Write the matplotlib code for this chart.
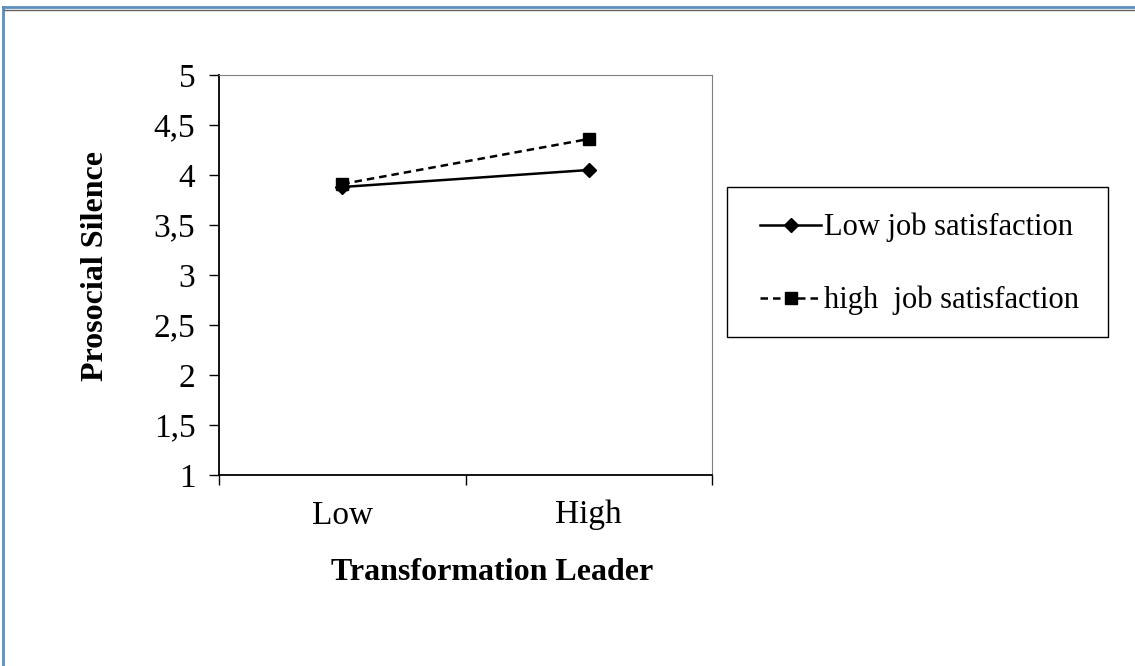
import matplotlib.pyplot as plt
from matplotlib.lines import Line2D
from matplotlib.patches import Rectangle

categories = ["Low", "High"]
low_sat = [3.88, 4.05]
high_sat = [3.91, 4.36]
y_ticks = [1, 1.5, 2, 2.5, 3, 3.5, 4, 4.5, 5]
y_labels = ["1", "1,5", "2", "2,5", "3", "3,5", "4", "4,5", "5"]

plt.rcParams['font.family'] = 'Liberation Serif'

fig = plt.figure(figsize=(11.35, 6.66), dpi=100)
ax = fig.add_axes([219 / 1135, 1 - 475 / 666, 493 / 1135, 400 / 666])

x = list(range(len(categories)))
ax.plot(x, low_sat, color='black', lw=1.8, marker='D', ms=7, label='Low job satisfaction')
ax.plot(x, high_sat, color='black', lw=1.8, ls=(0, (3, 2)), marker='s', ms=8.5,
        label='high  job satisfaction')

ax.set_xlim(-0.5, 1.5)
ax.set_ylim(1, 5)
ax.set_xticks(x)
ax.set_xticklabels(categories, fontsize=24)
ax.set_xticks([-0.5, 0.5, 1.5], minor=True)
ax.tick_params(axis='x', which='major', length=0, pad=18)
ax.tick_params(axis='x', which='minor', length=7, width=1, direction='out')
ax.set_yticks(y_ticks)
ax.set_yticklabels(y_labels, fontsize=24)
ax.tick_params(axis='y', length=7, width=1, direction='out', pad=10)

for s in ['top', 'right']:
    ax.spines[s].set_color('#808080')
for s in ['left', 'bottom']:
    ax.spines[s].set_color('black')
    ax.spines[s].set_linewidth(1.3)

ax.set_ylabel('Prosocial Silence', fontsize=23, fontweight='bold', va='center')
ax.yaxis.set_label_coords(-0.2515, 0.5225)
ax.set_xlabel('Transformation Leader', fontsize=23, fontweight='bold', va='center')
ax.xaxis.set_label_coords(0.554, -0.2425)

# legend: frame drawn separately so the inner padding can match
fig.add_artist(Rectangle((727 / 1135, 1 - 337 / 666), 381 / 1135, 150 / 666,
                         transform=fig.transFigure, fill=False, edgecolor='black', lw=1.0))
fig.legend(loc='upper left', bbox_to_anchor=(760 / 1135, 1 - 213 / 666),
           fontsize=22, frameon=False, handlelength=2.0, labelspacing=1.42,
           borderpad=0, handletextpad=0.1, borderaxespad=0)

# outer frame of the screenshot
fig.add_artist(Line2D([3 / 1135, 3 / 1135], [0, 1 - 7 / 666], transform=fig.transFigure,
                      color='#5b8fc0', lw=2))
fig.add_artist(Line2D([3 / 1135, 1], [1 - 7 / 666, 1 - 7 / 666], transform=fig.transFigure,
                      color='#5b8fc0', lw=2))
fig.add_artist(Line2D([4 / 1135, 1], [1 - 9.5 / 666, 1 - 9.5 / 666], transform=fig.transFigure,
                      color='#606060', lw=1))

fig.savefig('out.png', dpi=100)
